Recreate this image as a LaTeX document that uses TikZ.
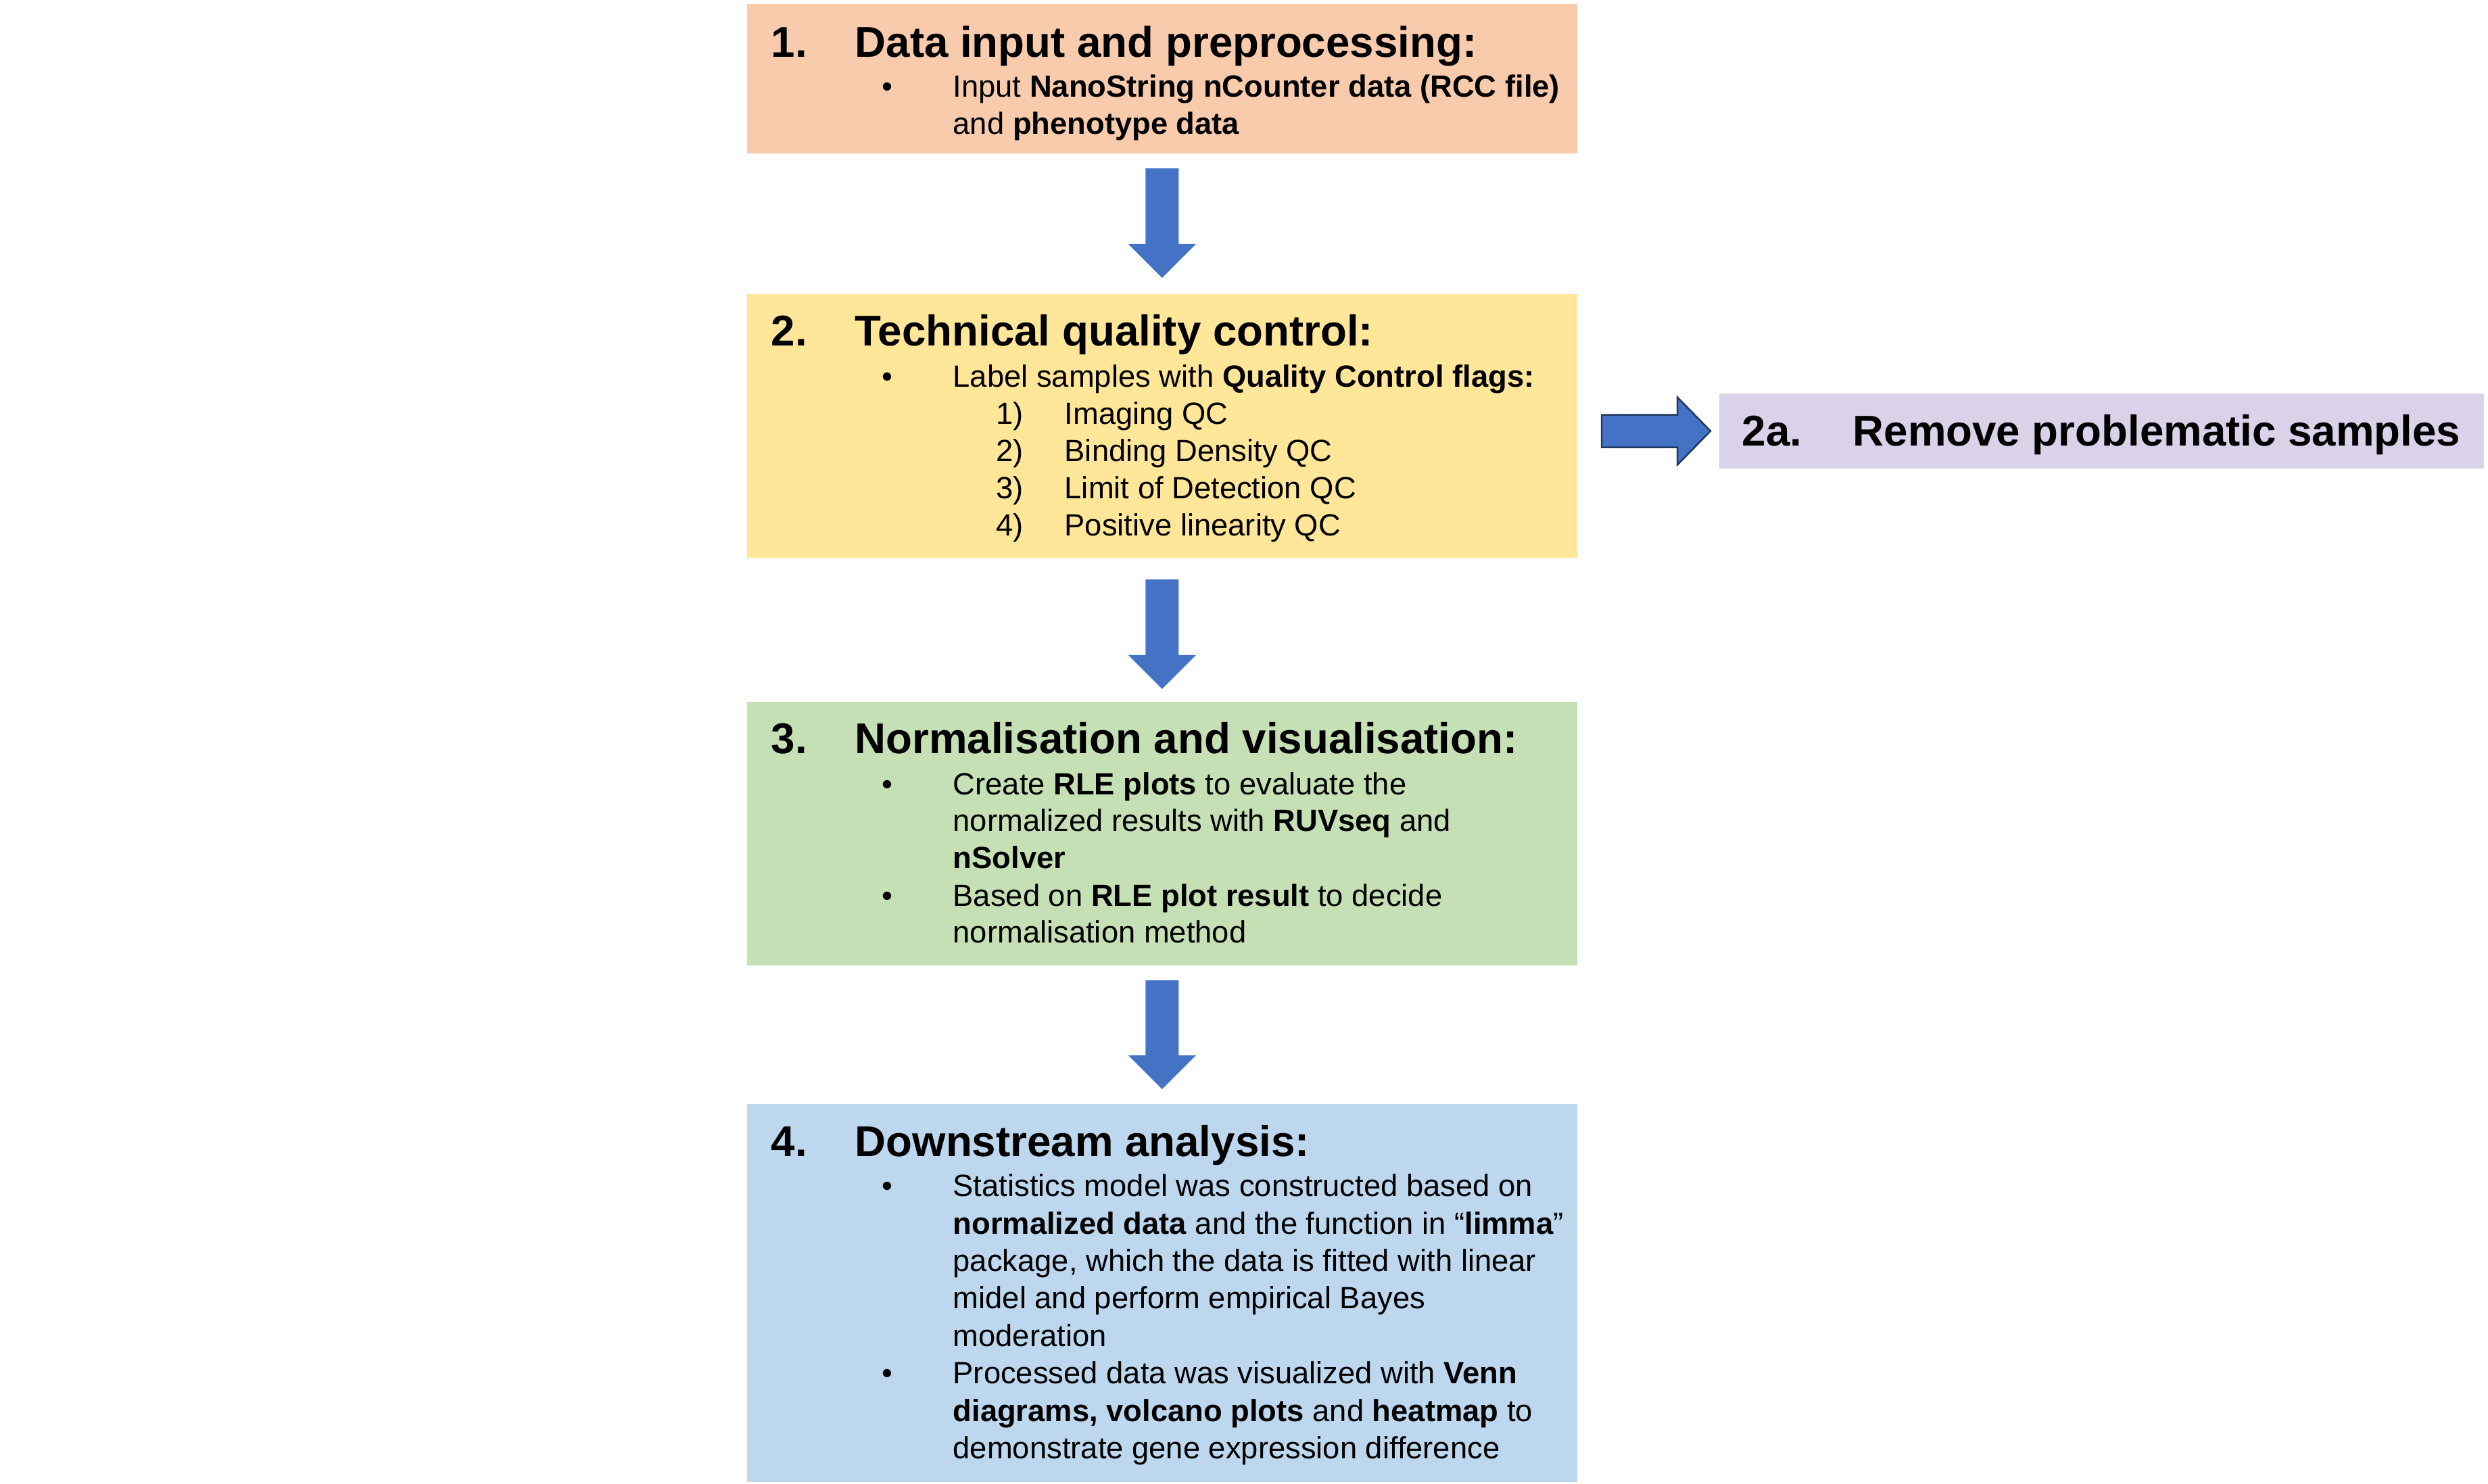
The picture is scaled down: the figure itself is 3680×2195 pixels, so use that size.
\documentclass[tikz,border=0pt]{standalone}
\usepackage{fontspec}
\setmainfont{Liberation Sans}
\usetikzlibrary{calc}
\definecolor{cA}{HTML}{F8CBAD}
\definecolor{cB}{HTML}{FFE699}
\definecolor{cC}{HTML}{C5E0B4}
\definecolor{cD}{HTML}{BDD7EE}
\definecolor{cE}{HTML}{D9D2E9}
\definecolor{arr}{HTML}{4472C4}
\definecolor{arrline}{HTML}{203864}
\tikzset{
 box/.style={inner sep=0pt, outer sep=0pt, anchor=north west, minimum width=12.27cm},
 ttl/.style={anchor=base west, inner sep=0pt, font=\fontsize{18.1}{21}\selectfont\bfseries},
 txt/.style={anchor=base west, inner sep=0pt, font=\fontsize{12.9}{15}\selectfont},
}
\newcommand\blkdown[2]{%
 \fill[arr] ($(#1)+(-24.5,0)$) -- ($(#1)+(24.5,0)$) -- ($(#2)+(24.5,-50)$) -- ($(#2)+(50,-50)$) -- (#2) -- ($(#2)+(-50,-50)$) -- ($(#2)+(-24.5,-50)$) -- cycle;}
\begin{document}
\begin{tikzpicture}[x=0.01cm,y=-0.01cm]
\fill[white] (0,0) rectangle (3680,2195);
\useasboundingbox (0,0) rectangle (3680,2195);
% boxes
\node[box, fill=cA, minimum height=2.21cm] (b1) at (1105,6) {};
\node[box, fill=cB, minimum height=3.90cm] (b2) at (1105,435) {};
\node[box, fill=cE, minimum width=11.30cm, minimum height=1.11cm] (b2a) at (2543,582) {};
\node[box, fill=cC, minimum height=3.90cm] (b3) at (1105,1038) {};
\node[box, fill=cD, minimum height=5.59cm] (b4) at (1105,1633) {};
% box 1
\node[ttl] (n1) at (1140,85) {1.};
\node[ttl] (h1) at (1264,85) {Data input and preprocessing:};
\node[txt] (p1a) at (1304,144) {•};
\node[txt] (l1a) at (1409,144) {Input \textbf{NanoString nCounter data (RCC file)}};
\node[txt] (l1b) at (1409,199) {and \textbf{phenotype data}};
% box 2
\node[ttl] (n2) at (1140,512) {2.};
\node[ttl] (h2) at (1264,512) {Technical quality control:};
\node[txt] (p2a) at (1304,573) {•};
\node[txt] (l2a) at (1409,573) {Label samples with \textbf{Quality Control flags:}};
\node[txt] (k21) at (1473,628) {1)};
\node[txt] (l21) at (1574,628) {Imaging QC};
\node[txt] (k22) at (1473,683) {2)};
\node[txt] (l22) at (1574,683) {Binding Density QC};
\node[txt] (k23) at (1473,738) {3)};
\node[txt] (l23) at (1574,738) {Limit of Detection QC};
\node[txt] (k24) at (1473,793) {4)};
\node[txt] (l24) at (1574,793) {Positive linearity QC};
% box 2a
\node[ttl] (n2a) at (2576,660) {2a.};
\node[ttl] (h2a) at (2740,660) {Remove problematic samples};
% box 3
\node[ttl] (n3) at (1140,1115) {3.};
\node[ttl] (h3) at (1264,1115) {Normalisation and visualisation:};
\node[txt] (p3a) at (1304,1176) {•};
\node[txt] (l3a) at (1409,1176) {Create \textbf{RLE plots} to evaluate the};
\node[txt] (l3b) at (1409,1230) {normalized results with \textbf{RUVseq} and};
\node[txt] (l3c) at (1409,1285) {\textbf{nSolver}};
\node[txt] (p3b) at (1304,1341) {•};
\node[txt] (l3d) at (1409,1341) {Based on \textbf{RLE plot result} to decide};
\node[txt] (l3e) at (1409,1395) {normalisation method};
% box 4
\node[ttl] (n4) at (1140,1710) {4.};
\node[ttl] (h4) at (1264,1710) {Downstream analysis:};
\node[txt] (p4a) at (1304,1769) {•};
\node[txt] (l4a) at (1409,1769) {Statistics model was constructed based on};
\node[txt] (l4b) at (1409,1825) {\textbf{normalized data} and the function in “\textbf{limma}”};
\node[txt] (l4c) at (1409,1880) {package, which the data is fitted with linear};
\node[txt] (l4d) at (1409,1935) {midel and perform empirical Bayes};
\node[txt] (l4e) at (1409,1991) {moderation};
\node[txt] (p4b) at (1304,2046) {•};
\node[txt] (l4f) at (1409,2046) {Processed data was visualized with \textbf{Venn}};
\node[txt] (l4g) at (1409,2102) {\textbf{diagrams, volcano plots} and \textbf{heatmap} to};
\node[txt] (l4h) at (1409,2157) {demonstrate gene expression difference};
% arrows
\coordinate (a1s) at ($(b1.south)+(0,22)$);
\coordinate (a1t) at ($(b2.north)+(0,-24)$);
\coordinate (a2s) at ($(b2.south)+(0,32)$);
\coordinate (a2t) at ($(b3.north)+(0,-19)$);
\coordinate (a3s) at ($(b3.south)+(0,22)$);
\coordinate (a3t) at ($(b4.north)+(0,-22)$);
\blkdown{a1s}{a1t}
\blkdown{a2s}{a2t}
\blkdown{a3s}{a3t}
\coordinate (r1s) at ($(b2a.west)+(-174,0)$);
\coordinate (r1t) at ($(b2a.west)+(-13,0)$);
\filldraw[fill=arr, draw=arrline, line width=0.025cm, line join=miter] ($(r1s)+(0,-24)$) -- ($(r1t)+(-49,-24)$) -- ($(r1t)+(-49,-50)$) -- (r1t) -- ($(r1t)+(-49,50)$) -- ($(r1t)+(-49,24)$) -- ($(r1s)+(0,24)$) -- cycle;
\end{tikzpicture}
\end{document}
